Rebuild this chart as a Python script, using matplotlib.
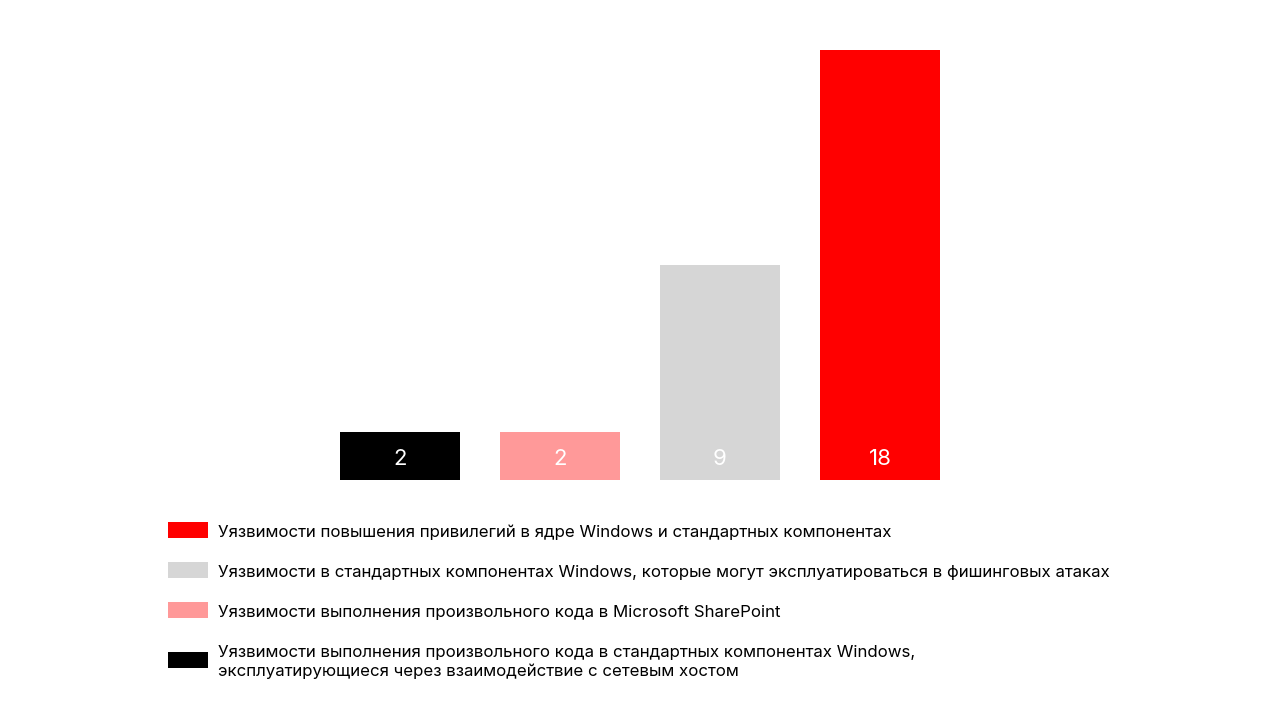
import matplotlib
matplotlib.use("Agg")
import matplotlib.pyplot as plt
from matplotlib.patches import Rectangle

categories = [
    "Уязвимости выполнения произвольного кода в стандартных компонентах Windows,\nэксплуатирующиеся через взаимодействие с сетевым хостом",
    "Уязвимости выполнения произвольного кода в Microsoft SharePoint",
    "Уязвимости в стандартных компонентах Windows, которые могут эксплуатироваться в фишинговых атаках",
    "Уязвимости повышения привилегий в ядре Windows и стандартных компонентах",
]
values = [2, 2, 9, 18]
colors = ["#000000", "#FF9999", "#D6D6D6", "#FF0000"]

plt.rcParams['font.family'] = ['Inter', 'DejaVu Sans']

W, H = 1280, 720
fig = plt.figure(figsize=(12.8, 7.2), dpi=100)
fig.patch.set_facecolor("white")

ax = fig.add_axes([340 / W, 240 / H, 600 / W, 430 / H])
xs = list(range(len(values)))
bars = ax.bar(xs, values, width=0.75, color=colors)
ax.set_xlim(-0.375, len(values) - 1 + 0.375)
ax.set_ylim(0, max(values))
ax.axis("off")

for x, v in zip(xs, values):
    ax.annotate(str(v), xy=(x, 0), xytext=(0, 21), textcoords="offset pixels",
                ha="center", va="center", color="white", fontsize=16,
                fontweight="normal")

# legend (reverse order)
legend_rows = [(3, 530), (2, 570), (1, 610), (0, 660)]
for idx, yc in legend_rows:
    fig.add_artist(Rectangle((168 / W, 1 - (yc + 8) / H), 40 / W, 16 / H,
                             transform=fig.transFigure, color=colors[idx], lw=0))
    fig.text(218 / W, 1 - (yc + 2) / H, categories[idx], ha="left", va="center",
             fontsize=12.15, color="black", linespacing=1.3)

fig.savefig("out.png", dpi=100, facecolor="white")
